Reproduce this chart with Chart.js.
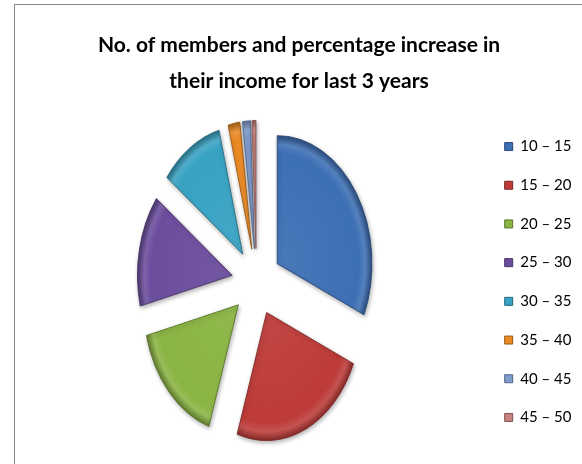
<!DOCTYPE html>
<html>
<head>
<meta charset="utf-8">
<script src="https://cdn.jsdelivr.net/npm/chart.js@4/dist/chart.umd.min.js"></script>
<style>
  html, body { margin: 0; padding: 0; background: #fff; }
  #frame {
    position: absolute; left: 14px; top: 4px; width: 600px; height: 500px;
    border-left: 1px solid #878787; border-top: 1px solid #878787;
  }
  #incomePie { position: absolute; left: 0; top: 0; }
</style>
</head>
<body>
<div id="frame"></div>
<canvas id="incomePie" width="582" height="464"></canvas>
<script>
// income increase bands (%) and number of members in each
const categories = ['10 – 15', '15 – 20', '20 – 25', '25 – 30', '30 – 35', '35 – 40', '40 – 45', '45 – 50'];
const members = [47, 35, 24, 21, 16, 3, 2, 1];
const titleLines = ['No. of members and percentage increase in', 'their income for last 3 years'];

const sliceColors = ['#3d6fb4', '#bd3b38', '#8ab443', '#6b4d9d', '#38a2c2', '#ec8a24', '#7f9ccf', '#c7817e'];

const pieRadius = 128;   // vertical radius
const squeeze = 0.74;    // pie is drawn narrower than tall
const explode = 33.5;    // how far each slice is pulled out

function shade(hex, amt) {
    const n = parseInt(hex.slice(1), 16);
    let r = n >> 16, g = (n >> 8) & 255, b = n & 255;
    const t = amt < 0 ? 0 : 255, p = Math.abs(amt);
    r = Math.round(r + (t - r) * p); g = Math.round(g + (t - g) * p); b = Math.round(b + (t - b) * p);
    return `rgb(${r},${g},${b})`;
}

function sliceFill(context) {
    const base = sliceColors[context.dataIndex];
    const area = context.chart.chartArea;
    if (!area) return base;
    const cx = (area.left + area.right) / 2, cy = (area.top + area.bottom) / 2;
    const g = context.chart.ctx.createRadialGradient(cx, cy, 0, cx, cy, pieRadius);
    g.addColorStop(0, shade(base, 0.06));
    g.addColorStop(0.86, base);
    g.addColorStop(0.93, shade(base, 0.12));
    g.addColorStop(1, shade(base, -0.3));
    return g;
}

// squeezes the pie horizontally and pulls every slice outwards
const explodedPie = {
    id: 'explodedPie',
    afterLayout(chart) {
        // legend is kept narrow for layout; let its labels run past the box
        if (chart.legend) chart.legend.right = chart.legend.left + 120;
    },
    beforeDatasetDraw(chart, args) {
        const arcs = args.meta.data;
        if (!arcs.length) return;
        const ctx = chart.ctx;
        const cx = arcs[0].x, cy = arcs[0].y;
        ctx.save();
        ctx.translate(cx, cy);
        ctx.scale(squeeze, 1);
        ctx.translate(-cx, -cy);
        arcs.forEach(arc => {
            const mid = (arc.startAngle + arc.endAngle) / 2;
            ctx.save();
            ctx.translate(Math.cos(mid) * explode, Math.sin(mid) * explode);
            ctx.shadowColor = 'rgba(0,0,0,0.3)';
            ctx.shadowBlur = 4;
            ctx.shadowOffsetX = 1;
            ctx.shadowOffsetY = 2;
            arc.draw(ctx);
            ctx.restore();
        });
        ctx.restore();
        return false;
    }
};

new Chart(document.getElementById('incomePie'), {
    type: 'pie',
    data: {
        labels: categories,
        datasets: [{
            data: members,
            backgroundColor: sliceFill,
            borderColor: sliceColors.map(c => shade(c, -0.35)),
            borderWidth: 1
        }]
    },
    options: {
        responsive: false,
        animation: false,
        devicePixelRatio: 1,
        radius: pieRadius,
        layout: { padding: { left: 32, right: 16, top: 0, bottom: 0 } },
        plugins: {
            title: {
                display: true,
                text: titleLines,
                color: '#000',
                font: { family: 'Lato', size: 21, weight: 'bold', lineHeight: '36px' },
                padding: { top: 27, bottom: 1 }
            },
            legend: {
                position: 'right',
                fullSize: false,
                maxWidth: 85,
                labels: {
                    boxWidth: 8,
                    boxHeight: 8,
                    padding: 23.7,
                    color: '#000',
                    font: { family: 'Lato', size: 15 },
                    generateLabels(chart) {
                        const items = Chart.overrides.pie.plugins.legend.labels.generateLabels(chart);
                        items.forEach((item, i) => {
                            item.fillStyle = sliceColors[i];
                            item.strokeStyle = shade(sliceColors[i], -0.35);
                            item.lineWidth = 1;
                        });
                        return items;
                    }
                }
            },
            tooltip: { enabled: false }
        }
    },
    plugins: [explodedPie]
});
</script>
</body>
</html>
